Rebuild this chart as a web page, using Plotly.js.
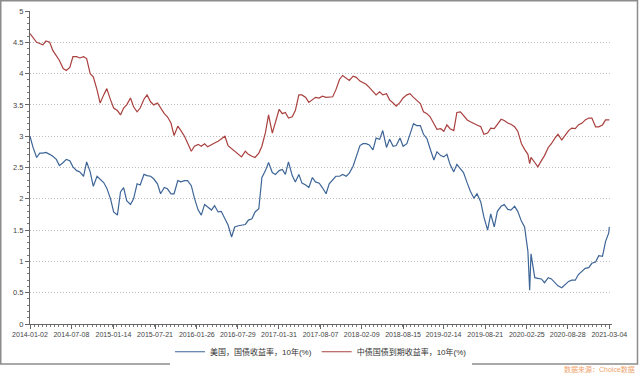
<!DOCTYPE html>
<html>
<head>
<meta charset="utf-8">
<script src="https://cdn.plot.ly/plotly-3.0.1.min.js"></script>
<style>html,body{margin:0;padding:0;background:#fff;}#chart{width:640px;height:377px;}</style>
</head>
<body>
<div id="chart"></div>
<script>
// Dates (semi-monthly samples)
const dates = [
"2014-01-02","2014-01-15","2014-02-01","2014-02-15","2014-03-01","2014-03-15","2014-04-01","2014-04-15","2014-05-01","2014-05-15","2014-06-01","2014-06-15","2014-07-01","2014-07-15","2014-08-01","2014-08-15","2014-09-01","2014-09-15","2014-10-01","2014-10-15","2014-11-01","2014-11-15","2014-12-01","2014-12-15",
"2015-01-01","2015-01-15","2015-02-01","2015-02-15","2015-03-01","2015-03-15","2015-04-01","2015-04-15","2015-05-01","2015-05-15","2015-06-01","2015-06-15","2015-07-01","2015-07-15","2015-08-01","2015-08-15","2015-09-01","2015-09-15","2015-10-01","2015-10-15","2015-11-01","2015-11-15","2015-12-01","2015-12-15",
"2016-01-01","2016-01-15","2016-02-01","2016-02-15","2016-03-01","2016-03-15","2016-04-01","2016-04-15","2016-05-01","2016-05-15","2016-06-01","2016-06-15","2016-07-01","2016-07-15","2016-08-01","2016-08-15","2016-09-01","2016-09-15","2016-10-01","2016-10-15","2016-11-01","2016-11-15","2016-12-01","2016-12-15",
"2017-01-01","2017-01-15","2017-02-01","2017-02-15","2017-03-01","2017-03-15","2017-04-01","2017-04-15","2017-05-01","2017-05-15","2017-06-01","2017-06-15","2017-07-01","2017-07-15","2017-08-01","2017-08-15","2017-09-01","2017-09-15","2017-10-01","2017-10-15","2017-11-01","2017-11-15","2017-12-01","2017-12-15",
"2018-01-01","2018-01-15","2018-02-01","2018-02-15","2018-03-01","2018-03-15","2018-04-01","2018-04-15","2018-05-01","2018-05-15","2018-06-01","2018-06-15","2018-07-01","2018-07-15","2018-08-01","2018-08-15","2018-09-01","2018-09-15","2018-10-01","2018-10-15","2018-11-01","2018-11-15","2018-12-01","2018-12-15",
"2019-01-01","2019-01-15","2019-02-01","2019-02-15","2019-03-01","2019-03-15","2019-04-01","2019-04-15","2019-05-01","2019-05-15","2019-06-01","2019-06-15","2019-07-01","2019-07-15","2019-08-01","2019-08-15","2019-09-01","2019-09-15","2019-10-01","2019-10-15","2019-11-01","2019-11-15","2019-12-01","2019-12-15",
"2020-01-01","2020-01-15","2020-02-01","2020-02-15","2020-03-01","2020-03-09","2020-03-15","2020-04-01","2020-04-15","2020-05-01","2020-05-15","2020-06-01","2020-06-15","2020-07-01","2020-07-15","2020-08-01","2020-08-15","2020-09-01","2020-09-15","2020-10-01","2020-10-15","2020-11-01","2020-11-15","2020-12-01","2020-12-15",
"2021-01-01","2021-01-15","2021-02-01","2021-02-15","2021-03-01","2021-03-04"
];

// 美国，国债收益率，10年(%)
const usYield = [
3.00,2.83,2.66,2.73,2.73,2.74,2.71,2.68,2.63,2.53,2.58,2.63,2.61,2.51,2.45,2.43,2.36,2.59,2.43,2.20,2.36,2.32,2.26,2.17,
2.00,1.79,1.74,2.11,2.18,1.97,1.91,2.00,2.24,2.22,2.39,2.37,2.36,2.32,2.24,2.08,2.18,2.16,2.08,2.08,2.29,2.27,2.29,2.29,
2.21,2.01,1.82,1.74,1.91,1.87,1.82,1.89,1.79,1.80,1.68,1.58,1.39,1.55,1.57,1.58,1.59,1.66,1.68,1.79,1.84,2.34,2.45,2.58,
2.42,2.39,2.45,2.47,2.39,2.59,2.37,2.27,2.39,2.25,2.22,2.18,2.34,2.27,2.25,2.18,2.08,2.24,2.31,2.36,2.36,2.39,2.36,2.41,
2.52,2.67,2.85,2.88,2.88,2.86,2.78,2.97,2.95,3.09,2.82,2.95,2.84,2.85,2.97,2.84,2.88,3.03,3.20,3.17,3.17,3.03,2.96,2.80,
2.62,2.75,2.69,2.67,2.71,2.55,2.43,2.55,2.49,2.42,2.25,2.12,2.01,2.08,1.95,1.71,1.50,1.76,1.55,1.80,1.88,1.91,1.83,1.82,
1.88,1.80,1.64,1.55,1.16,0.54,1.12,0.74,0.73,0.72,0.66,0.74,0.72,0.66,0.61,0.58,0.63,0.68,0.70,0.70,0.79,0.85,0.89,0.90,0.97,
0.99,1.09,1.08,1.32,1.45,1.55
];

// 中债国债到期收益率，10年(%)
const cnYield = [
4.64,4.58,4.50,4.48,4.46,4.52,4.50,4.37,4.29,4.21,4.08,4.05,4.10,4.27,4.27,4.25,4.27,4.24,4.00,3.95,3.74,3.53,3.66,3.76,
3.58,3.45,3.41,3.34,3.45,3.50,3.61,3.47,3.39,3.45,3.59,3.66,3.55,3.50,3.53,3.45,3.36,3.31,3.21,3.01,3.16,3.09,3.00,2.89,
2.76,2.84,2.87,2.84,2.88,2.83,2.87,2.89,2.92,2.95,3.00,2.85,2.80,2.76,2.71,2.67,2.76,2.71,2.68,2.66,2.73,2.84,3.06,3.34,
3.05,3.24,3.43,3.36,3.38,3.29,3.31,3.41,3.66,3.66,3.62,3.54,3.58,3.62,3.61,3.64,3.62,3.62,3.63,3.74,3.91,3.97,3.92,3.89,
3.96,3.94,3.88,3.85,3.83,3.78,3.72,3.66,3.71,3.66,3.68,3.58,3.53,3.48,3.54,3.61,3.66,3.68,3.62,3.57,3.52,3.39,3.36,3.31,
3.20,3.11,3.12,3.08,3.18,3.12,3.09,3.38,3.39,3.33,3.26,3.23,3.21,3.18,3.15,3.03,3.05,3.13,3.12,3.19,3.27,3.25,3.21,3.19,
3.15,3.08,2.88,2.79,2.71,2.56,2.66,2.58,2.51,2.61,2.69,2.82,2.88,2.97,3.03,2.94,3.00,3.09,3.13,3.12,3.18,3.21,3.26,3.29,3.29,
3.15,3.15,3.18,3.26,3.25,3.26
];

const tickDates = ["2014-01-02","2014-07-08","2015-01-14","2015-07-21","2016-01-26","2016-07-29","2017-01-31","2017-08-07","2018-02-09","2018-08-15","2019-02-14","2019-08-21","2020-02-25","2020-08-28","2021-03-04"];

const seriesNames = ["美国，国债收益率，10年(%)","中债国债到期收益率，10年(%)"];

const font = "Liberation Sans, Arial, Noto Sans CJK SC, sans-serif";
const DAY = 86400000;

const traces = [
  {x: dates, y: usYield, name: seriesNames[0], type: "scatter", mode: "lines",
   line: {color: "#3d6597", width: 1.2}},
  {x: dates, y: cnYield, name: seriesNames[1], type: "scatter", mode: "lines",
   line: {color: "#a9403e", width: 1.2}}
];

const px2paperX = p => (p - 30) / 582;
const px2paperY = p => (327 - p) / 316;

const layout = {
  width: 640, height: 377,
  margin: {l: 30, r: 28, t: 11, b: 50, pad: 0},
  paper_bgcolor: "#fff", plot_bgcolor: "#fff",
  font: {family: font, size: 8, color: "#444"},
  showlegend: true,
  legend: {orientation: "h", x: 0.5, xanchor: "center", y: px2paperY(355), yanchor: "middle",
           font: {family: font, size: 8, color: "#333"}, itemwidth: 30, tracegroupgap: 0},
  xaxis: {
    type: "date", range: ["2014-01-02", "2021-03-16"],
    tickmode: "array", tickvals: tickDates, ticktext: tickDates, tickangle: 0,
    showline: true, linecolor: "#666", linewidth: 1,
    ticks: "outside", ticklen: 4, tickcolor: "#666",
    tickfont: {family: font, size: 7, color: "#444"},
    showgrid: false, zeroline: false,
    minor: {ticks: "outside", ticklen: 2, tickcolor: "#777", dtick: 18.7 * DAY, tick0: "2014-01-02", showgrid: false}
  },
  yaxis: {
    range: [0, 5], dtick: 0.5, tick0: 0,
    showline: true, linecolor: "#666", linewidth: 1,
    ticks: "outside", ticklen: 4, tickcolor: "#666",
    tickfont: {family: font, size: 7.5, color: "#444"},
    showgrid: true, gridcolor: "#bdbdbd", griddash: "1px,2px", gridwidth: 1,
    zeroline: false,
    minor: {ticks: "outside", ticklen: 2, tickcolor: "#777", dtick: 0.1, showgrid: false}
  },
  shapes: [
    {type: "rect", xref: "paper", yref: "paper",
     x0: px2paperX(0.75), x1: px2paperX(637.5), y0: px2paperY(367.5), y1: px2paperY(0.75),
     line: {color: "#8c8c8c", width: 1.5}, fillcolor: "rgba(0,0,0,0)", layer: "above"}
  ],
  annotations: [
    {xref: "paper", yref: "paper", x: px2paperX(637), xanchor: "right", y: px2paperY(373), yanchor: "middle",
     text: "数据来源：Choice数据", showarrow: false, font: {family: font, size: 7, color: "#f0a46e"}}
  ]
};

Plotly.newPlot("chart", traces, layout, {staticPlot: true, displayModeBar: false});
</script>
</body>
</html>
